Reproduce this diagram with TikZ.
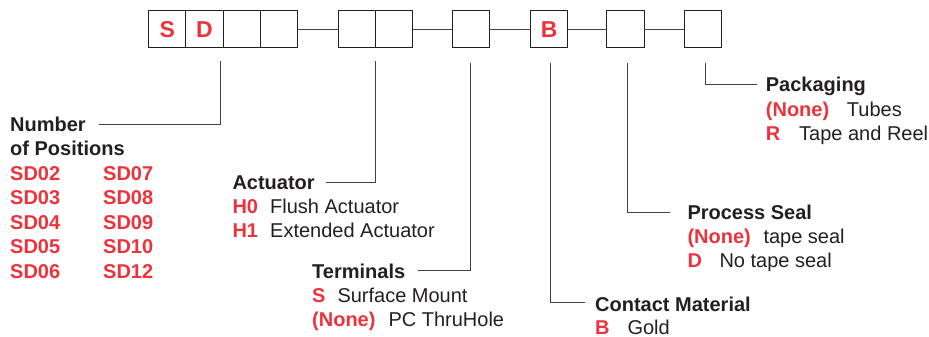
\documentclass[tikz,border=0pt]{standalone}
\usepackage{fontspec}
\setmainfont{Liberation Sans}
\definecolor{codered}{RGB}{237,50,60}
\definecolor{ink}{RGB}{35,31,32}
\begin{document}
\begin{tikzpicture}[x=1pt,y=-1pt,
  cell/.style={draw=ink,line width=1.1pt,minimum width=37.2pt,minimum height=36.8pt,inner sep=0pt,outer sep=0pt,font=\fontsize{23}{23}\selectfont\bfseries,text=codered},
  lead/.style={draw=ink!85,line width=0.9pt},
  head/.style={anchor=base west,inner sep=0pt,font=\fontsize{20}{24}\selectfont\bfseries,text=ink},
  code/.style={anchor=base west,inner sep=0pt,font=\fontsize{20}{24}\selectfont\bfseries,text=codered},
  desc/.style={anchor=base west,inner sep=0pt,font=\fontsize{20}{24}\selectfont,text=ink}]
\useasboundingbox (0,0) rectangle (929,337);
% part-number boxes
\node[cell] (b1) at (167.3,29.3) {S};
\node[cell] (b2) at (204.5,29.3) {D};
\node[cell] (b3) at (241.7,29.3) {};
\node[cell] (b4) at (278.9,29.3) {};
\node[cell] (b5) at (356.9,29.3) {};
\node[cell] (b6) at (394.1,29.3) {};
\node[cell] (b7) at (470.7,29.3) {};
\node[cell] (b8) at (549.2,29.3) {B};
\node[cell] (b9) at (625.5,29.3) {};
\node[cell] (b10) at (703.0,29.3) {};
\draw[lead] (b4.east) -- (b5.west);
\draw[lead] (b6.east) -- (b7.west);
\draw[lead] (b7.east) -- (b8.west);
\draw[lead] (b8.east) -- (b9.west);
\draw[lead] (b9.east) -- (b10.west);
% leaders
\coordinate (t1) at (220.3,61);  \coordinate (e1) at (99,124);
\coordinate (t2) at (375.3,61);  \coordinate (e2) at (326,182.7);
\coordinate (t3) at (470.3,63);  \coordinate (e3) at (418,270.7);
\coordinate (t4) at (550.3,63);  \coordinate (e4) at (585,302.7);
\coordinate (t5) at (627.7,63);  \coordinate (e5) at (670,212.3);
\coordinate (t6) at (705.7,63);  \coordinate (e6) at (756.7,84.3);
\draw[lead] (t1) |- (e1);
\draw[lead] (t2) |- (e2);
\draw[lead] (t3) |- (e3);
\draw[lead] (t4) |- (e4);
\draw[lead] (t5) |- (e5);
\draw[lead] (t6) |- (e6);
% Number of positions
\node[head] (num1) at (10,131) {Number};
\node[head] (num2) at (10,155.3) {of Positions};
\node[code] (sd02) at (10,180) {SD02};
\node[code] (sd03) at (10,204.6) {SD03};
\node[code] (sd04) at (10,229.2) {SD04};
\node[code] (sd05) at (10,253.8) {SD05};
\node[code] (sd06) at (10,278.4) {SD06};
\node[code] (sd07) at (103,180) {SD07};
\node[code] (sd08) at (103,204.6) {SD08};
\node[code] (sd09) at (103,229.2) {SD09};
\node[code] (sd10) at (103,253.8) {SD10};
\node[code] (sd12) at (103,278.4) {SD12};
% Actuator
\node[head] (act) at (232.3,189.3) {Actuator};
\node[code] (h0) at (232.3,213.6) {H0};
\node[desc] (h0d) at (270,213.6) {Flush Actuator};
\node[code] (h1) at (232.3,237.7) {H1};
\node[desc] (h1d) at (270,237.7) {Extended Actuator};
% Terminals
\node[head] (ter) at (312,278.3) {Terminals};
\node[code] (ts) at (312,302.7) {S};
\node[desc] (tsd) at (337.3,302.7) {Surface Mount};
\node[code] (tn) at (312,326.7) {(None)};
\node[desc] (tnd) at (388.3,326.7) {PC ThruHole};
% Contact material
\node[head] (cm) at (595,311.7) {Contact Material};
\node[code] (cb) at (595,334.6) {B};
\node[desc] (cbd) at (627.3,334.6) {Gold};
% Process seal
\node[head] (ps) at (687.3,219.3) {Process Seal};
\node[code] (pn) at (687.3,243.8) {(None)};
\node[desc] (pnd) at (763.3,243.8) {tape seal};
\node[code] (pd) at (687.3,267.7) {D};
\node[desc] (pdd) at (719.3,267.7) {No tape seal};
% Packaging
\node[head] (pk) at (765.7,91.7) {Packaging};
\node[code] (kn) at (765.7,116.3) {(None)};
\node[desc] (knd) at (846.7,116.3) {Tubes};
\node[code] (kr) at (765.7,140) {R};
\node[desc] (krd) at (799,140) {Tape and Reel};
\end{tikzpicture}
\end{document}
